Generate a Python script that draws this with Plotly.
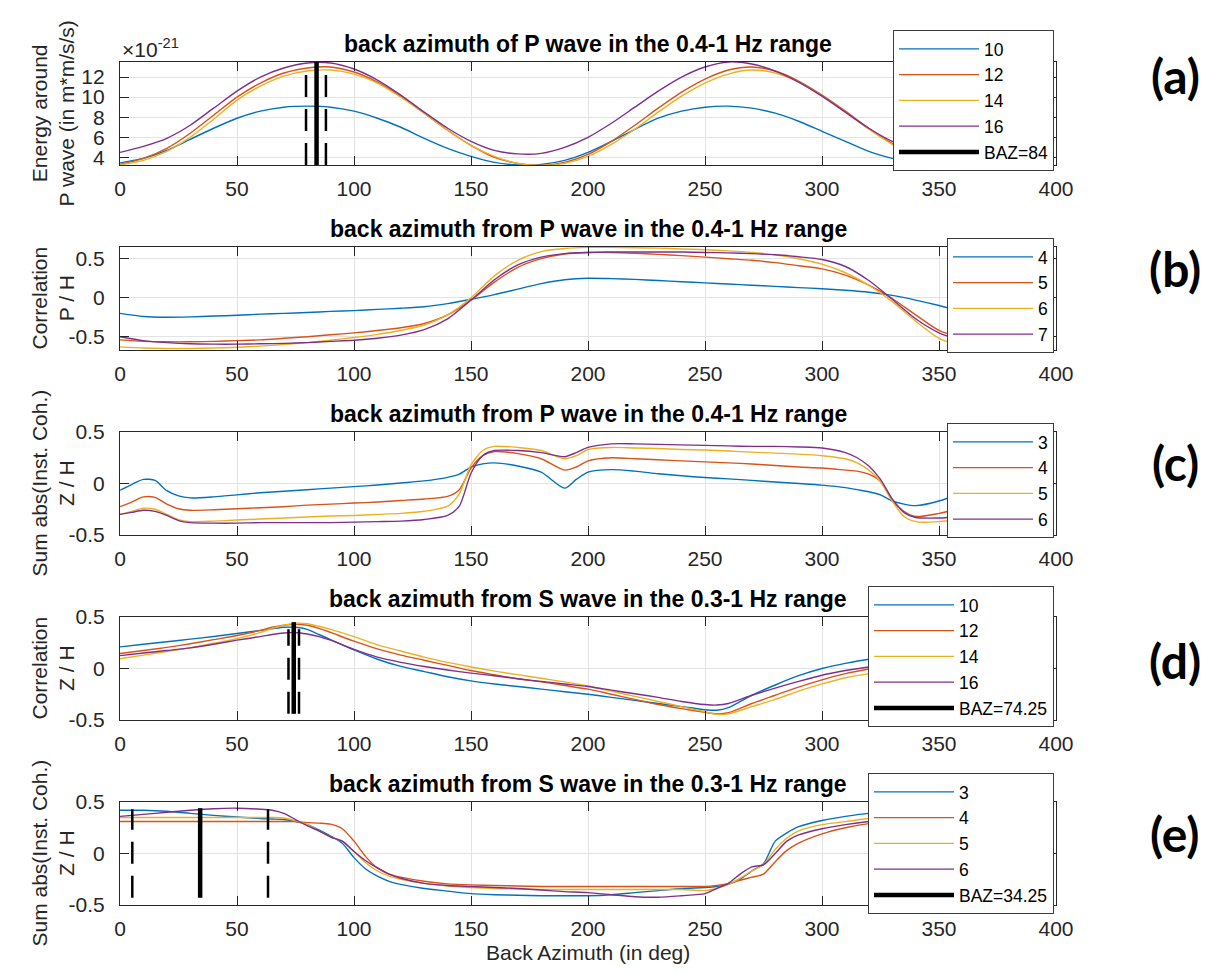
import plotly.graph_objects as go

# ---------------- data ----------------
# (a) energy around P wave, values in units of 1e-21
az_a = list(range(0, 361, 10))
energy_10 = [3.45, 3.9, 4.7, 5.8, 6.9, 7.9, 8.6, 9.0, 9.1, 9.0, 8.6, 7.9, 7.0, 5.9, 4.9, 4.1, 3.5, 3.25, 3.3,
             3.7, 4.5, 5.6, 6.8, 7.9, 8.6, 9.0, 9.1, 8.9, 8.4, 7.6, 6.6, 5.6, 4.6, 3.9, 3.4, 3.25, 3.3]
energy_12 = [3.3, 3.9, 4.9, 6.4, 8.2, 10.0, 11.4, 12.4, 12.9, 13.0, 12.5, 11.5, 10.1, 8.4, 6.7, 5.2, 4.0, 3.4, 3.2,
             3.5, 4.3, 5.6, 7.2, 8.9, 10.5, 11.8, 12.7, 13.0, 12.6, 11.6, 10.2, 8.6, 6.9, 5.4, 4.2, 3.4, 3.2]
energy_14 = [3.25, 3.7, 4.6, 6.0, 7.8, 9.7, 11.1, 12.1, 12.6, 12.7, 12.3, 11.4, 10.0, 8.4, 6.7, 5.2, 4.1, 3.4, 3.2,
             3.4, 4.1, 5.3, 6.8, 8.5, 10.1, 11.4, 12.3, 12.7, 12.4, 11.5, 10.1, 8.5, 6.8, 5.3, 4.1, 3.4, 3.2]
energy_16 = [4.5, 5.1, 5.9, 7.2, 8.9, 10.6, 12.0, 12.9, 13.4, 13.4, 12.8, 11.7, 10.2, 8.5, 6.9, 5.6, 4.7, 4.35, 4.4,
             5.0, 6.0, 7.4, 9.0, 10.6, 12.0, 13.0, 13.5, 13.3, 12.6, 11.5, 10.1, 8.5, 6.9, 5.6, 4.8, 4.4, 4.45]
baz_a = 84
baz_a_bounds = [79.5, 88]
baz_a_solid_y = [3.24, 13.5]
baz_a_dash_y = [3.24, 12.3]

# (b) correlation P / H
az_b = list(range(0, 361, 10))
corr_p_4 = [-0.20, -0.24, -0.25, -0.245, -0.235, -0.225, -0.21, -0.20, -0.19, -0.175, -0.165, -0.15, -0.135,
            -0.115, -0.075, -0.02, 0.04, 0.11, 0.18, 0.23, 0.25, 0.245, 0.235, 0.22, 0.205, 0.19, 0.175, 0.16,
            0.145, 0.13, 0.115, 0.095, 0.07, 0.03, -0.03, -0.10, -0.18]
corr_p_5 = [-0.54, -0.56, -0.565, -0.565, -0.56, -0.55, -0.54, -0.52, -0.50, -0.475, -0.45, -0.42, -0.385,
            -0.33, -0.22, -0.03, 0.20, 0.39, 0.50, 0.56, 0.58, 0.58, 0.57, 0.555, 0.54, 0.52, 0.50, 0.48, 0.45,
            0.41, 0.37, 0.29, 0.16, -0.01, -0.22, -0.42, -0.52]
corr_p_6 = [-0.63, -0.645, -0.65, -0.65, -0.645, -0.635, -0.62, -0.60, -0.575, -0.545, -0.51, -0.47, -0.42,
            -0.35, -0.22, 0.0, 0.28, 0.48, 0.59, 0.63, 0.645, 0.645, 0.64, 0.635, 0.625, 0.615, 0.60, 0.58, 0.55,
            0.50, 0.43, 0.32, 0.16, -0.05, -0.30, -0.52, -0.63]
corr_p_7 = [-0.50, -0.55, -0.575, -0.59, -0.595, -0.595, -0.59, -0.585, -0.575, -0.56, -0.545, -0.52, -0.48,
            -0.41, -0.27, -0.03, 0.23, 0.42, 0.52, 0.565, 0.58, 0.585, 0.585, 0.585, 0.585, 0.58, 0.575, 0.565,
            0.55, 0.525, 0.49, 0.40, 0.22, -0.02, -0.27, -0.45, -0.55]

# (c) sum abs(inst. coh.) Z / H, P wave
az_c = [0, 5, 10, 15, 20, 25, 30, 40, 50, 60, 70, 80, 90, 100, 110, 120, 130, 140, 145, 150, 155, 160, 170, 180,
        190, 195, 200, 210, 220, 230, 240, 250, 260, 270, 280, 290, 300, 310, 315, 320, 325, 330, 335, 340, 350,
        360]
coh_p_3 = [-0.065, -0.01, 0.04, 0.03, -0.07, -0.12, -0.14, -0.13, -0.11, -0.09, -0.075, -0.06, -0.045, -0.03,
           -0.015, 0.005, 0.025, 0.06, 0.09, 0.16, 0.19, 0.2, 0.17, 0.11, -0.045, 0.04, 0.11, 0.135, 0.12, 0.095,
           0.075, 0.058, 0.045, 0.03, 0.015, 0.0, -0.016, -0.04, -0.06, -0.08, -0.11, -0.17, -0.2, -0.215, -0.17,
           -0.09]
coh_p_4 = [-0.225, -0.18, -0.13, -0.135, -0.2, -0.245, -0.26, -0.255, -0.245, -0.235, -0.225, -0.21, -0.2, -0.19,
           -0.18, -0.165, -0.15, -0.125, -0.06, 0.15, 0.27, 0.31, 0.29, 0.24, 0.13, 0.16, 0.22, 0.25, 0.24, 0.23,
           0.22, 0.21, 0.2, 0.19, 0.175, 0.16, 0.15, 0.13, 0.12, 0.09, 0.02, -0.16, -0.27, -0.32, -0.29, -0.235]
coh_p_5 = [-0.3, -0.27, -0.24, -0.25, -0.3, -0.35, -0.37, -0.365, -0.355, -0.345, -0.335, -0.325, -0.315, -0.31,
           -0.3, -0.29, -0.27, -0.22, -0.1, 0.18, 0.32, 0.36, 0.35, 0.32, 0.24, 0.27, 0.33, 0.35, 0.345, 0.34,
           0.33, 0.325, 0.315, 0.305, 0.295, 0.285, 0.27, 0.24, 0.2, 0.13, 0.02, -0.17, -0.32, -0.37, -0.37, -0.34]
coh_p_6 = [-0.3, -0.28, -0.26, -0.27, -0.31, -0.36, -0.38, -0.385, -0.385, -0.38, -0.38, -0.38, -0.38, -0.375,
           -0.37, -0.365, -0.35, -0.31, -0.22, 0.1, 0.27, 0.32, 0.32, 0.3, 0.26, 0.3, 0.35, 0.385, 0.385, 0.38,
           0.375, 0.37, 0.365, 0.36, 0.36, 0.355, 0.345, 0.3, 0.25, 0.17, 0.04, -0.15, -0.28, -0.33, -0.335, -0.32]

# (d) correlation Z / H, S wave
az_d = [0, 10, 20, 30, 40, 50, 60, 65, 70, 75, 80, 85, 90, 100, 110, 120, 130, 140, 150, 160, 170, 180, 190, 200,
        210, 220, 230, 240, 250, 255, 260, 270, 280, 290, 300, 310, 320, 330, 340, 350, 360]
corr_s_10 = [0.21, 0.235, 0.26, 0.285, 0.31, 0.34, 0.37, 0.385, 0.4, 0.4, 0.38, 0.33, 0.28, 0.18, 0.09, 0.02,
             -0.03, -0.08, -0.12, -0.15, -0.175, -0.2, -0.225, -0.25, -0.28, -0.31, -0.34, -0.37, -0.4, -0.405,
             -0.38, -0.26, -0.16, -0.07, 0.0, 0.05, 0.09, 0.11, 0.125, 0.135, 0.14]
corr_s_12 = [0.145, 0.175, 0.205, 0.24, 0.28, 0.32, 0.37, 0.4, 0.42, 0.43, 0.42, 0.39, 0.35, 0.265, 0.19, 0.13,
             0.08, 0.03, -0.02, -0.06, -0.1, -0.13, -0.165, -0.2, -0.25, -0.3, -0.35, -0.39, -0.425, -0.44, -0.43,
             -0.34, -0.26, -0.18, -0.11, -0.05, -0.005, 0.03, 0.055, 0.07, 0.08]
corr_s_14 = [0.095, 0.13, 0.165, 0.2, 0.245, 0.29, 0.35, 0.39, 0.42, 0.44, 0.435, 0.41, 0.38, 0.31, 0.23, 0.17,
             0.11, 0.06, 0.015, -0.025, -0.06, -0.095, -0.13, -0.17, -0.22, -0.27, -0.32, -0.37, -0.42, -0.445,
             -0.44, -0.37, -0.3, -0.22, -0.15, -0.09, -0.05, -0.02, 0.0, 0.015, 0.03]
corr_s_16 = [0.125, 0.15, 0.175, 0.2, 0.235, 0.275, 0.31, 0.33, 0.345, 0.35, 0.335, 0.31, 0.275, 0.185, 0.11,
             0.06, 0.02, -0.015, -0.045, -0.07, -0.1, -0.125, -0.15, -0.175, -0.21, -0.245, -0.28, -0.32, -0.35,
             -0.355, -0.34, -0.26, -0.19, -0.125, -0.065, -0.02, 0.015, 0.04, 0.06, 0.075, 0.085]
baz_d = 74.25
baz_d_bounds = [72.0, 76.5]
baz_d_solid_y = [-0.44, 0.45]
baz_d_dash_y = [-0.44, 0.38]

# (e) sum abs(inst. coh.) Z / H, S wave
az_e = [0, 10, 20, 30, 40, 50, 60, 65, 70, 75, 80, 85, 90, 95, 100, 105, 110, 115, 120, 130, 140, 150, 160, 170,
        180, 190, 200, 210, 220, 230, 240, 250, 255, 260, 265, 270, 275, 280, 285, 290, 300, 310, 320, 330, 340,
        350, 360]
coh_s_3 = [0.42, 0.42, 0.41, 0.39, 0.37, 0.355, 0.34, 0.335, 0.33, 0.31, 0.28, 0.23, 0.17, 0.1, -0.04, -0.15,
           -0.22, -0.27, -0.3, -0.34, -0.365, -0.39, -0.4, -0.405, -0.41, -0.41, -0.41, -0.4, -0.38, -0.36, -0.34,
           -0.33, -0.32, -0.3, -0.25, -0.17, -0.1, 0.12, 0.2, 0.26, 0.32, 0.36, 0.39, 0.4, 0.41, 0.42, 0.42]
coh_s_4 = [0.31, 0.31, 0.31, 0.31, 0.31, 0.31, 0.31, 0.31, 0.31, 0.31, 0.3, 0.295, 0.285, 0.24, 0.12, -0.03,
           -0.14, -0.2, -0.23, -0.27, -0.295, -0.305, -0.31, -0.315, -0.32, -0.32, -0.32, -0.32, -0.32, -0.32,
           -0.32, -0.32, -0.31, -0.29, -0.26, -0.23, -0.2, -0.08, 0.03, 0.1, 0.19, 0.25, 0.29, 0.31, 0.32, 0.33,
           0.33]
coh_s_5 = [0.35, 0.35, 0.35, 0.35, 0.35, 0.35, 0.35, 0.35, 0.345, 0.32, 0.28, 0.22, 0.16, 0.12, 0.02, -0.09,
           -0.17, -0.22, -0.25, -0.29, -0.315, -0.33, -0.34, -0.345, -0.35, -0.35, -0.35, -0.35, -0.35, -0.35,
           -0.35, -0.36, -0.34, -0.3, -0.24, -0.17, -0.11, 0.04, 0.15, 0.22, 0.28, 0.31, 0.34, 0.35, 0.36, 0.37,
           0.37]
coh_s_6 = [0.36, 0.38, 0.4, 0.42, 0.435, 0.44, 0.43, 0.42, 0.39, 0.33, 0.27, 0.22, 0.16, 0.12, 0.02, -0.07,
           -0.14, -0.2, -0.24, -0.29, -0.31, -0.32, -0.33, -0.34, -0.355, -0.37, -0.38, -0.4, -0.42, -0.425,
           -0.41, -0.39, -0.34, -0.29, -0.2, -0.13, -0.11, 0.0, 0.12, 0.18, 0.24, 0.28, 0.31, 0.33, 0.34, 0.35,
           0.35]
baz_e = 34.25
baz_e_bounds = [5.25, 63.25]
baz_e_solid_y = [-0.43, 0.44]
baz_e_dash_y = [-0.43, 0.43]

# tick labels
x_ticks = [0, 50, 100, 150, 200, 250, 300, 350, 400]
energy_ticks = [4, 6, 8, 10, 12]
unit_ticks = [-0.5, 0, 0.5]
unit_tick_text = ["-0.5", "0", "0.5"]

titles = ["back azimuth of P wave in the 0.4-1 Hz range",
          "back azimuth from P wave in the 0.4-1 Hz range",
          "back azimuth from P wave in the 0.4-1 Hz range",
          "back azimuth from S wave in the 0.3-1 Hz range",
          "back azimuth from S wave in the 0.3-1 Hz range"]
ylabels = ["Energy around<br>P wave (in m*m/s/s)", "Correlation<br>P / H", "Sum abs(Inst. Coh.)<br>Z / H",
           "Correlation<br>Z / H", "Sum abs(Inst. Coh.)<br>Z / H"]
panel_tags = ["(a)", "(b)", "(c)", "(d)", "(e)"]

# ---------------- styling / layout ----------------
PAGE_OFF = 8                     # default body margin of the html page
W, H = 1217 - 2 * PAGE_OFF, 974 - 2 * PAGE_OFF
PL, PR = 120, 1056               # plot left / right in page pixels
L, R = PL - PAGE_OFF, PR - PAGE_OFF
COLORS = ["#0072BD", "#D95319", "#EDB120", "#7E2F8E"]
AX = "#262626"
FONT = "Arial, Liberation Sans, Helvetica, sans-serif"


def fy(page_px):
    return 1 - (page_px - PAGE_OFF) / H


def fx(page_px):
    return (page_px - PAGE_OFF - L) / (R - L)


tops = [62, 247, 432, 617, 802]
height = 103
legend_tops = [30, 238, 423, 586, 773]
tag_y = [75, 268, 462, 660, 833]

panels = [
    dict(x=az_a, ys=[energy_10, energy_12, energy_14, energy_16], names=["10", "12", "14", "16"],
         yrange=[3.24, 13.5], yt=energy_ticks, ytt=[str(v) for v in energy_ticks],
         baz=(baz_a, baz_a_bounds, baz_a_solid_y, baz_a_dash_y)),
    dict(x=az_b, ys=[corr_p_4, corr_p_5, corr_p_6, corr_p_7], names=["4", "5", "6", "7"],
         yrange=[-0.67, 0.65], yt=unit_ticks, ytt=unit_tick_text, baz=None),
    dict(x=az_c, ys=[coh_p_3, coh_p_4, coh_p_5, coh_p_6], names=["3", "4", "5", "6"],
         yrange=[-0.5, 0.5], yt=unit_ticks, ytt=unit_tick_text, baz=None),
    dict(x=az_d, ys=[corr_s_10, corr_s_12, corr_s_14, corr_s_16], names=["10", "12", "14", "16"],
         yrange=[-0.5, 0.5], yt=unit_ticks, ytt=unit_tick_text,
         baz=(baz_d, baz_d_bounds, baz_d_solid_y, baz_d_dash_y)),
    dict(x=az_e, ys=[coh_s_3, coh_s_4, coh_s_5, coh_s_6], names=["3", "4", "5", "6"],
         yrange=[-0.5, 0.5], yt=unit_ticks, ytt=unit_tick_text,
         baz=(baz_e, baz_e_bounds, baz_e_solid_y, baz_e_dash_y)),
]

fig = go.Figure()
layout = dict(template="none", width=W, height=H,
              margin=dict(l=L, r=W - R, t=0, b=0, pad=0, autoexpand=False),
              paper_bgcolor="white", plot_bgcolor="white", showlegend=True,
              font=dict(family=FONT, color=AX))
annotations = []

for i, p in enumerate(panels):
    k = i + 1
    xa = "x" if k == 1 else f"x{k}"
    ya = "y" if k == 1 else f"y{k}"
    leg = "legend" if k == 1 else f"legend{k}"
    for s, (yv, nm) in enumerate(zip(p["ys"], p["names"])):
        fig.add_trace(go.Scatter(x=p["x"], y=yv, mode="lines", name=nm, xaxis=xa, yaxis=ya, legend=leg,
                                 line=dict(color=COLORS[s], width=1.4, shape="spline", smoothing=0.7)))
    if p["baz"] is not None:
        b, bounds, sy, dy = p["baz"]
        for bb in bounds:
            fig.add_trace(go.Scatter(x=[bb, bb], y=dy, mode="lines", showlegend=False, xaxis=xa, yaxis=ya,
                                     line=dict(color="black", width=2.5, dash="22px,12px")))
        fig.add_trace(go.Scatter(x=[b, b], y=sy, mode="lines", name=f"BAZ={b:g}", xaxis=xa, yaxis=ya,
                                 legend=leg, line=dict(color="black", width=4.5)))

    top = tops[i]
    dom = [fy(top + height), fy(top)]
    axis_common = dict(showline=True, linecolor=AX, linewidth=1.3, mirror="ticks", ticks="inside",
                       ticklen=9, tickwidth=1.3, tickcolor=AX, showgrid=True, gridcolor="#e3e3e3",
                       gridwidth=1, zeroline=False, automargin=False,
                       tickfont=dict(family=FONT, size=21, color=AX))
    layout[f"xaxis{k if k > 1 else ''}"] = dict(domain=[0, 1], anchor=ya, range=[0, 400], tickvals=x_ticks,
                                                 ticktext=[str(v) for v in x_ticks], ticklabelstandoff=5,
                                                 **axis_common)
    layout[f"yaxis{k if k > 1 else ''}"] = dict(domain=dom, anchor=xa, range=p["yrange"], tickvals=p["yt"],
                                                 ticktext=p["ytt"], ticklabelstandoff=10, **axis_common)
    layout[leg] = dict(x=fx(1054), xanchor="right", y=fy(legend_tops[i]), yanchor="top", bgcolor="white",
                       bordercolor="#3c3c3c", borderwidth=1, font=dict(family=FONT, size=17.5, color="black"),
                       tracegroupgap=0, itemwidth=80)

    annotations.append(dict(text=f"<b>{titles[i]}</b>", x=0.5, y=fy(top - 18), xref="paper", yref="paper",
                            xanchor="center", yanchor="middle", showarrow=False,
                            font=dict(family=FONT, size=23, color="black")))
    annotations.append(dict(text=ylabels[i], x=fx(52), y=fy(top + height / 2), xref="paper", yref="paper",
                            xanchor="center", yanchor="middle", textangle=-90, showarrow=False,
                            font=dict(family=FONT, size=21, color=AX)))
    annotations.append(dict(text=f"<b>{panel_tags[i]}</b>", x=fx(1175), y=fy(tag_y[i]), xref="paper",
                            yref="paper", xanchor="center", yanchor="middle", showarrow=False,
                            font=dict(family="Lato", size=48, color="black")))

annotations.append(dict(text="×10<sup>-21</sup>", x=0, y=fy(48), xref="paper", yref="paper", xanchor="left",
                        yanchor="middle", showarrow=False, font=dict(family=FONT, size=21, color=AX)))
annotations.append(dict(text="Back Azimuth (in deg)", x=0.5, y=fy(952), xref="paper", yref="paper",
                        xanchor="center", yanchor="middle", showarrow=False,
                        font=dict(family=FONT, size=21, color=AX)))
layout["annotations"] = annotations
fig.update_layout(**layout)
fig.write_html("out.html")
